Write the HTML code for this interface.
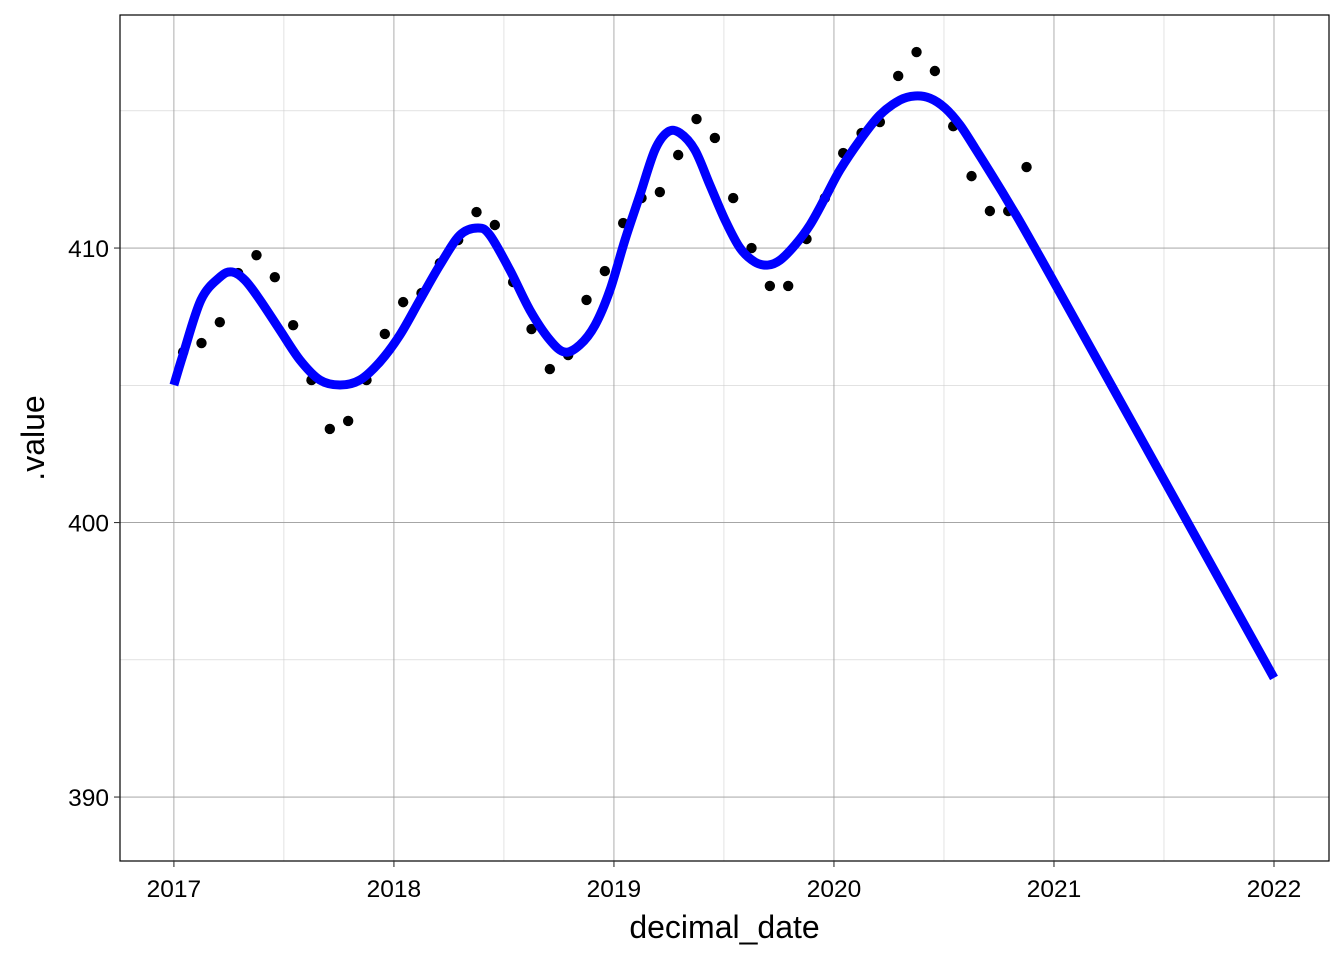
<!DOCTYPE html>
<html><head><meta charset="utf-8"><style>
body{margin:0;background:#fff;}
svg{display:block;font-family:"Liberation Sans",Arial,sans-serif;}
</style></head><body>
<svg id="chart" width="1344" height="960"></svg>
<script>
const pointStart = 2017.042;
const pointValues = [406.21,406.54,407.30,409.09,409.74,408.94,407.19,405.19,403.41,403.70,405.19,406.87,408.03,408.36,409.45,410.29,411.31,410.84,408.76,407.05,405.59,406.10,408.11,409.16,410.91,411.82,412.04,413.39,414.70,414.01,411.82,410.00,408.62,408.62,410.33,411.82,413.46,414.19,414.59,416.27,417.14,416.45,414.44,412.62,411.35,411.35,412.95];
const lineDates = [2017.000,2017.041,2017.123,2017.209,2017.264,2017.323,2017.391,2017.482,2017.573,2017.664,2017.755,2017.845,2017.936,2018.027,2018.118,2018.209,2018.300,2018.382,2018.436,2018.527,2018.618,2018.709,2018.777,2018.845,2018.914,2018.982,2019.050,2019.118,2019.186,2019.245,2019.300,2019.368,2019.436,2019.505,2019.573,2019.641,2019.700,2019.755,2019.823,2019.891,2019.959,2020.027,2020.118,2020.209,2020.300,2020.368,2020.436,2020.505,2020.573,2020.641,2020.709,2020.800,2020.982,2022.000];
const lineValues = [405.01,406.10,408.11,408.94,409.13,408.83,408.11,407.01,405.92,405.19,405.01,405.19,405.85,406.83,408.11,409.38,410.47,410.73,410.47,409.20,407.74,406.65,406.21,406.47,407.19,408.47,410.29,411.93,413.57,414.23,414.19,413.57,412.30,411.02,410.00,409.49,409.38,409.56,410.11,410.84,411.82,412.84,413.93,414.85,415.39,415.54,415.46,415.10,414.48,413.64,412.77,411.57,409.02,394.34];
const xTicks = [2017,2018,2019,2020,2021,2022];
const xMinor = [2017.5,2018.5,2019.5,2020.5,2021.5];
const yTicks = [390,400,410];
const yMinor = [395,405,415];

const L=120,R=1329,T=15,B=861;
const xmin=2016.755,xmax=2022.25,ymin=387.67,ymax=418.49;
const X=d=>L+(d-xmin)/(xmax-xmin)*(R-L);
const Y=v=>B-(v-ymin)/(ymax-ymin)*(B-T);
const svg=document.getElementById('chart');
const NS='http://www.w3.org/2000/svg';
function mk(tag,attrs,parent){const e=document.createElementNS(NS,tag);for(const k in attrs)e.setAttribute(k,attrs[k]);(parent||svg).appendChild(e);return e;}

const grid=mk('g',{});


xMinor.forEach(d=>mk('line',{x1:X(d),x2:X(d),y1:T,y2:B,stroke:'#d0d0d0','stroke-width':0.6},grid));
yMinor.forEach(v=>mk('line',{x1:L,x2:R,y1:Y(v),y2:Y(v),stroke:'#d0d0d0','stroke-width':0.6},grid));
xTicks.forEach(d=>mk('line',{x1:X(d),x2:X(d),y1:T,y2:B,stroke:'#9a9a9a','stroke-width':0.8},grid));
yTicks.forEach(v=>mk('line',{x1:L,x2:R,y1:Y(v),y2:Y(v),stroke:'#9a9a9a','stroke-width':0.8},grid));

const pts=mk('g',{});


pointValues.forEach((v,i)=>{
  const c=mk('circle',{cx:X(pointStart+i/12),cy:Y(v),r:5.2,fill:'#000'},pts);
  
  
});

// smooth catmull-rom path
const P=lineDates.map((d,i)=>[X(d),Y(lineValues[i])]);
let dstr='M'+P[0][0]+','+P[0][1];
for(let i=0;i<P.length-1;i++){
  const p0=P[Math.max(0,i-1)],p1=P[i],p2=P[i+1],p3=P[Math.min(P.length-1,i+2)];
  const c1=[p1[0]+(p2[0]-p0[0])/6,p1[1]+(p2[1]-p0[1])/6];
  const c2=[p2[0]-(p3[0]-p1[0])/6,p2[1]-(p3[1]-p1[1])/6];
  dstr+=' C'+c1[0]+','+c1[1]+' '+c2[0]+','+c2[1]+' '+p2[0]+','+p2[1];
}
const path=mk('path',{d:dstr,fill:'none',stroke:'#0000ff','stroke-width':9,'stroke-linejoin':'round'});



const frame=mk('rect',{x:L,y:T,width:R-L,height:B-T,fill:'none',stroke:'#000','stroke-width':1.2});



xTicks.forEach(d=>{
  mk('line',{x1:X(d),x2:X(d),y1:B,y2:B+6,stroke:'#333','stroke-width':1.1});
  const t=mk('text',{x:X(d),y:B+36,'text-anchor':'middle','font-size':24.5,fill:'#000'});
  t.textContent=d;
  
  
});
yTicks.forEach(v=>{
  mk('line',{x1:L-6,x2:L,y1:Y(v),y2:Y(v),stroke:'#333','stroke-width':1.1});
  const t=mk('text',{x:L-11,y:Y(v)+9,'text-anchor':'end','font-size':24.5,fill:'#000'});
  t.textContent=v;
  
  
});
const xt=mk('text',{x:(L+R)/2,y:938,'text-anchor':'middle','font-size':32,fill:'#000'});
xt.textContent='decimal_date';


const yt=mk('text',{x:0,y:0,transform:'translate(44,'+((T+B)/2)+') rotate(-90)','text-anchor':'middle','font-size':32,fill:'#000'});
yt.textContent='.value';


</script>
</body></html>
